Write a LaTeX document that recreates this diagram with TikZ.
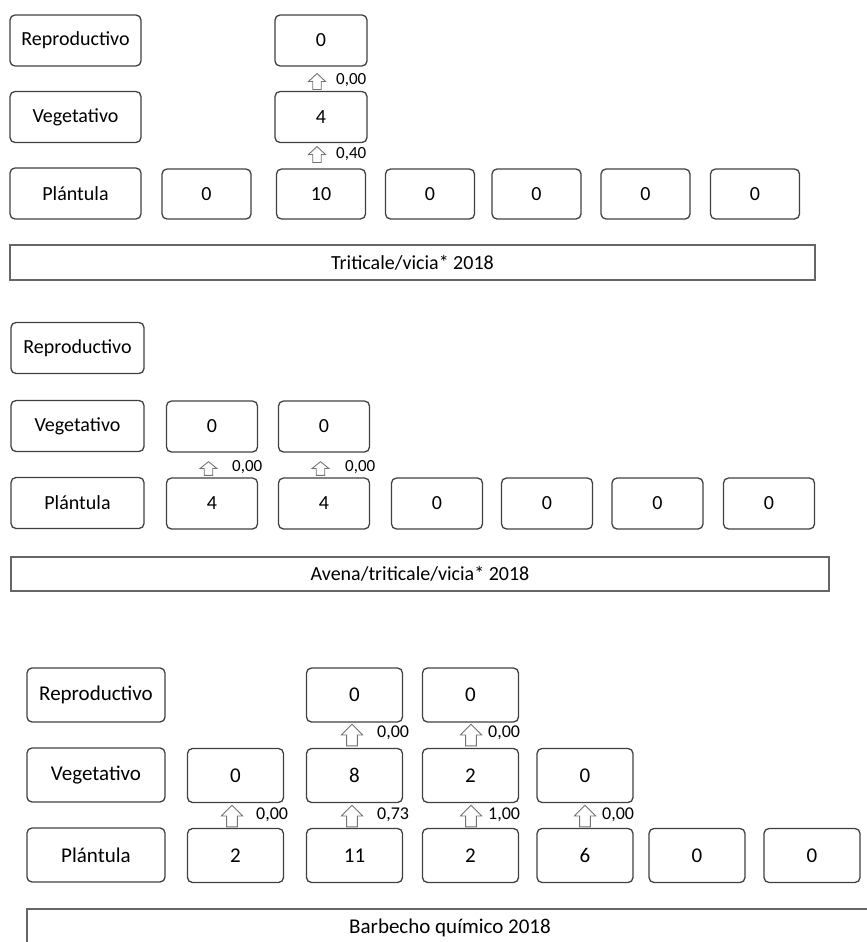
\documentclass[tikz,border=0pt]{standalone}
\usepackage{fontspec}
\setmainfont{Carlito}

\newcommand\letraA{\fontsize{20}{24}\selectfont}
\newcommand\letraB{\fontsize{21}{25}\selectfont}

\tikzset{
  caja/.style 2 args={draw=black!75, line width=1.3pt, rounded corners=5pt,
    minimum width=#1, minimum height=#2, inner sep=0pt},
  flechita/.pic={
    \draw[draw=black!55, fill=white, line width=0.9pt, line join=miter]
      (0,-8) -- (8.5,0) -- (4.25,0) -- (4.25,8) -- (-4.25,8) -- (-4.25,0) -- (-8.5,0) -- cycle;
  },
  valor/.style={anchor=west, inner sep=0pt, font=\fontsize{17}{20}\selectfont},
  barra/.style={draw=black!60, line width=1.5pt}
}

\begin{document}
\begin{tikzpicture}[x=1pt, y=-1pt]
\useasboundingbox (0,0) rectangle (867,942);
\clip (0,0) rectangle (867,942);

% Triticale/vicia
\begin{scope}[font=\letraA]
\node[caja={131}{51}] (aR) at (75.5,40.5) {Reproductivo};
\node[caja={131}{51}] (aV) at (75.5,117) {Vegetativo};
\node[caja={131}{51}] (aP) at (75.5,193.5) {Plántula};

\foreach \x/\v [count=\i] in {206.5/0,321/10,430/0,536.5/0,645.5/0,755/0}
  \node[caja={89}{50}] (aP\i) at (\x,194) {\v};
\node[caja={92}{51}] (aV2) at (321,117) {4};
\node[caja={92}{51}] (aR2) at (321,40.5) {0};

\pic (aF1) at (317,81.5) {flechita};
\node[valor] (aL1) at (336,80) {0,00};
\pic (aF2) at (317,154.5) {flechita};
\node[valor] (aL2) at (336,154) {0,40};

\node[barra, minimum width=805, minimum height=35] (aT) at (412.5,262.5) {Triticale/vicia* 2018};
\end{scope}

% Avena/triticale/vicia
\begin{scope}[font=\letraA]
\node[caja={133}{51}] (bR) at (77.5,348) {Reproductivo};
\node[caja={133}{51}] (bV) at (77.5,426) {Vegetativo};
\node[caja={133}{51}] (bP) at (77.5,503) {Plántula};

\foreach \x/\v [count=\i] in {212/4,324/4,437/0,547/0,657.5/0,769/0}
  \node[caja={91}{51}] (bP\i) at (\x,503.5) {\v};
\node[caja={91}{51}] (bV1) at (212,426.5) {0};
\node[caja={91}{51}] (bV2) at (324,426.5) {0};

\pic[yscale=0.85] (bF1) at (208.5,468.5) {flechita};
\node[valor] (bL1) at (232,467) {0,00};
\pic[yscale=0.85] (bF2) at (320.5,468.5) {flechita};
\node[valor] (bL2) at (345,467) {0,00};

\node[barra, minimum width=818, minimum height=34] (bT) at (420,574) {Avena/triticale/vicia* 2018};
\end{scope}

% Barbecho quimico
\begin{scope}[font=\letraB]
\node[caja={138}{54}] (cR) at (96,695) {Reproductivo};
\node[caja={138}{54}] (cV) at (96,775) {Vegetativo};
\node[caja={138}{54}] (cP) at (96,855) {Plántula};

\foreach \x/\v [count=\i] in {235.5/2,354.5/11,470.5/2,585/6,697/0,812/0}
  \node[caja={96}{54}] (cP\i) at (\x,855.5) {\v};
\foreach \x/\v [count=\i] in {235.5/0,354.5/8,470.5/2,585/0}
  \node[caja={96}{54}] (cV\i) at (\x,775.5) {\v};
\node[caja={96}{54}] (cR2) at (354.5,695) {0};
\node[caja={96}{54}] (cR3) at (470.5,695) {0};

\foreach \x/\l/\n in {352/377/2,471/488/3}{
  \pic[xscale=1.25, yscale=1.35] (cFR\n) at (\x,735) {flechita};
  \node[valor, font=\fontsize{18}{21}\selectfont] (cLR\n) at (\l,733) {0,00};
}
\foreach \x/\l/\t [count=\n] in {232/256/{0,00},352/377/{0,73},471/488/{1,00},585/602/{0,00}}{
  \pic[xscale=1.25, yscale=1.35] (cFV\n) at (\x,816) {flechita};
  \node[valor, font=\fontsize{18}{21}\selectfont] (cLV\n) at (\l,815) {\t};
}

\draw[barra] (27,909) rectangle (890,970);
\node (cT) at (450,928) {Barbecho químico 2018};
\end{scope}
\end{tikzpicture}
\end{document}
